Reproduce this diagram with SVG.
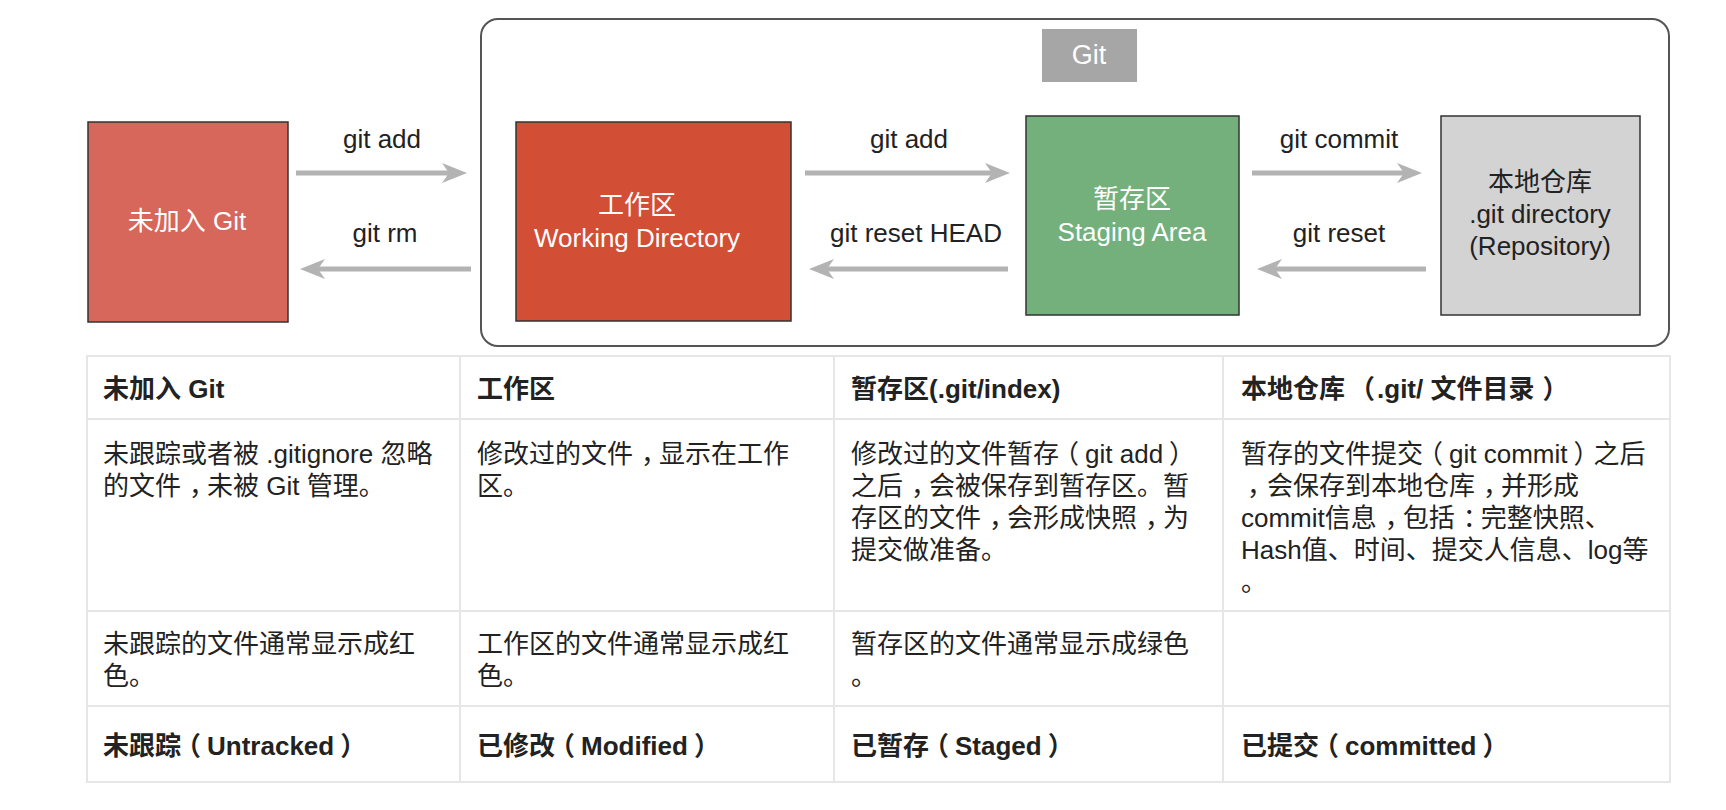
<svg xmlns="http://www.w3.org/2000/svg" width="1726" height="810" viewBox="0 0 1726 810">
<style>
.t{font-family:"Liberation Sans","Noto Sans CJK SC",sans-serif;font-size:26px;fill:#222}
.w{fill:#ffffff}
.b{font-weight:bold}
.m{text-anchor:middle}
.box{stroke:#333;stroke-width:1.5}
.arr{stroke:#b3b3b3;stroke-width:5;fill:none;marker-end:url(#ah)}
.grid{stroke:#e6e6e6;stroke-width:2;fill:none}
</style>
<defs>
<marker id="ah" markerUnits="userSpaceOnUse" markerWidth="28" markerHeight="24" refX="13" refY="11" orient="auto">
<path d="M0,1 L25,11 L0,21 L7,11 Z" fill="#b3b3b3"/>
</marker>
</defs>
<rect width="1726" height="810" fill="#ffffff"/>

<g id="git-container">
<rect x="481" y="19" width="1188" height="327" rx="17" fill="none" stroke="#555" stroke-width="2"/>
<rect x="1042" y="29" width="95" height="53" fill="#a6a6a6"/>
<text class="t w m" x="1089" y="64" style="font-size:27px">Git</text>
</g>

<g id="untracked">
<rect class="box" x="88" y="122" width="200" height="200" fill="#d6675a"/>
<text class="t w m" x="187" y="230">未加入 Git</text>
</g>

<g id="working">
<rect class="box" x="516" y="122" width="275" height="199" fill="#d24e35"/>
<text class="t w m" x="637" y="214">工作区</text>
<text class="t w m" x="637" y="247">Working Directory</text>
</g>

<g id="staging">
<rect class="box" x="1026" y="116" width="213" height="199" fill="#73b07b"/>
<text class="t w m" x="1132" y="208">暂存区</text>
<text class="t w m" x="1132" y="241">Staging Area</text>
</g>

<g id="repository">
<rect class="box" x="1441" y="116" width="199" height="199" fill="#d3d3d3"/>
<text class="t m" x="1540" y="191">本地仓库</text>
<text class="t m" x="1540" y="223">.git directory</text>
<text class="t m" x="1540" y="255">(Repository)</text>
</g>

<g id="connectors">
<line class="arr" x1="296" y1="173" x2="455" y2="173"/>
<line class="arr" x1="471" y1="269" x2="312" y2="269"/>
<line class="arr" x1="805" y1="173" x2="998" y2="173"/>
<line class="arr" x1="1008" y1="269" x2="821" y2="269"/>
<line class="arr" x1="1252" y1="173" x2="1410" y2="173"/>
<line class="arr" x1="1426" y1="269" x2="1269" y2="269"/>
<text class="t m" x="382" y="148">git add</text>
<text class="t m" x="385" y="242">git rm</text>
<text class="t m" x="909" y="148">git add</text>
<text class="t m" x="916" y="242">git reset HEAD</text>
<text class="t m" x="1339" y="148">git commit</text>
<text class="t m" x="1339" y="242">git reset</text>
</g>

<g id="table">
<rect class="grid" x="87" y="356" width="1583" height="426"/>
<line class="grid" x1="87" y1="419" x2="1670" y2="419"/>
<line class="grid" x1="87" y1="611" x2="1670" y2="611"/>
<line class="grid" x1="87" y1="706" x2="1670" y2="706"/>
<line class="grid" x1="460" y1="356" x2="460" y2="782"/>
<line class="grid" x1="834" y1="356" x2="834" y2="782"/>
<line class="grid" x1="1223" y1="356" x2="1223" y2="782"/>

<text class="t b" x="103" y="398">未加入 Git</text>
<text class="t b" x="477" y="398">工作区</text>
<text class="t b" x="851" y="398">暂存区(.git/index)</text>
<text class="t b" x="1241" y="398">本地仓库<tspan dx="4">（</tspan><tspan dx="2">.git/ 文件目录</tspan><tspan dx="8">）</tspan></text>

<text class="t" x="103" y="463">未跟踪或者被 .gitignore 忽略</text>
<text class="t" x="103" y="495">的文件<tspan dx="8">，</tspan><tspan dx="-8">未被 Git 管理。</tspan></text>

<text class="t" x="477" y="463">修改过的文件<tspan dx="8">，</tspan><tspan dx="-8">显示在工作</tspan></text>
<text class="t" x="477" y="495">区。</text>

<text class="t" x="851" y="463">修改过的文件暂存<tspan dx="-6">（</tspan><tspan dx="6">git add</tspan><tspan dx="6">）</tspan></text>
<text class="t" x="851" y="495">之后<tspan dx="8">，</tspan><tspan dx="-8">会被保存到暂存区。暂</tspan></text>
<text class="t" x="851" y="527">存区的文件<tspan dx="8">，</tspan><tspan dx="-8">会形成快照</tspan><tspan dx="8">，</tspan><tspan dx="-8">为</tspan></text>
<text class="t" x="851" y="559">提交做准备。</text>

<text class="t" x="1241" y="463">暂存的文件提交<tspan dx="-6">（</tspan><tspan dx="6">git commit</tspan><tspan dx="6">）</tspan><tspan dx="-6">之后</tspan></text>
<text class="t" x="1241" y="495"><tspan dx="6">，</tspan><tspan dx="-6">会保存到本地仓库</tspan><tspan dx="8">，</tspan><tspan dx="-8">并形成</tspan></text>
<text class="t" x="1241" y="527">commit信息<tspan dx="8">，</tspan><tspan dx="-8">包括</tspan><tspan dx="8">：</tspan><tspan dx="-8">完整快照、</tspan></text>
<text class="t" x="1241" y="559">Hash值、时间、提交人信息、log等</text>
<text class="t" x="1241" y="591">。</text>

<text class="t" x="103" y="653">未跟踪的文件通常显示成红</text>
<text class="t" x="103" y="685">色。</text>
<text class="t" x="477" y="653">工作区的文件通常显示成红</text>
<text class="t" x="477" y="685">色。</text>
<text class="t" x="851" y="653">暂存区的文件通常显示成绿色</text>
<text class="t" x="851" y="685">。</text>

<text class="t b" x="103" y="755">未跟踪<tspan dx="-6">（</tspan><tspan dx="6">Untracked</tspan><tspan dx="6">）</tspan></text>
<text class="t b" x="477" y="755">已修改<tspan dx="-6">（</tspan><tspan dx="6">Modified</tspan><tspan dx="6">）</tspan></text>
<text class="t b" x="851" y="755">已暂存<tspan dx="-6">（</tspan><tspan dx="6">Staged</tspan><tspan dx="6">）</tspan></text>
<text class="t b" x="1241" y="755">已提交<tspan dx="-6">（</tspan><tspan dx="6">committed</tspan><tspan dx="6">）</tspan></text>
</g>
</svg>
